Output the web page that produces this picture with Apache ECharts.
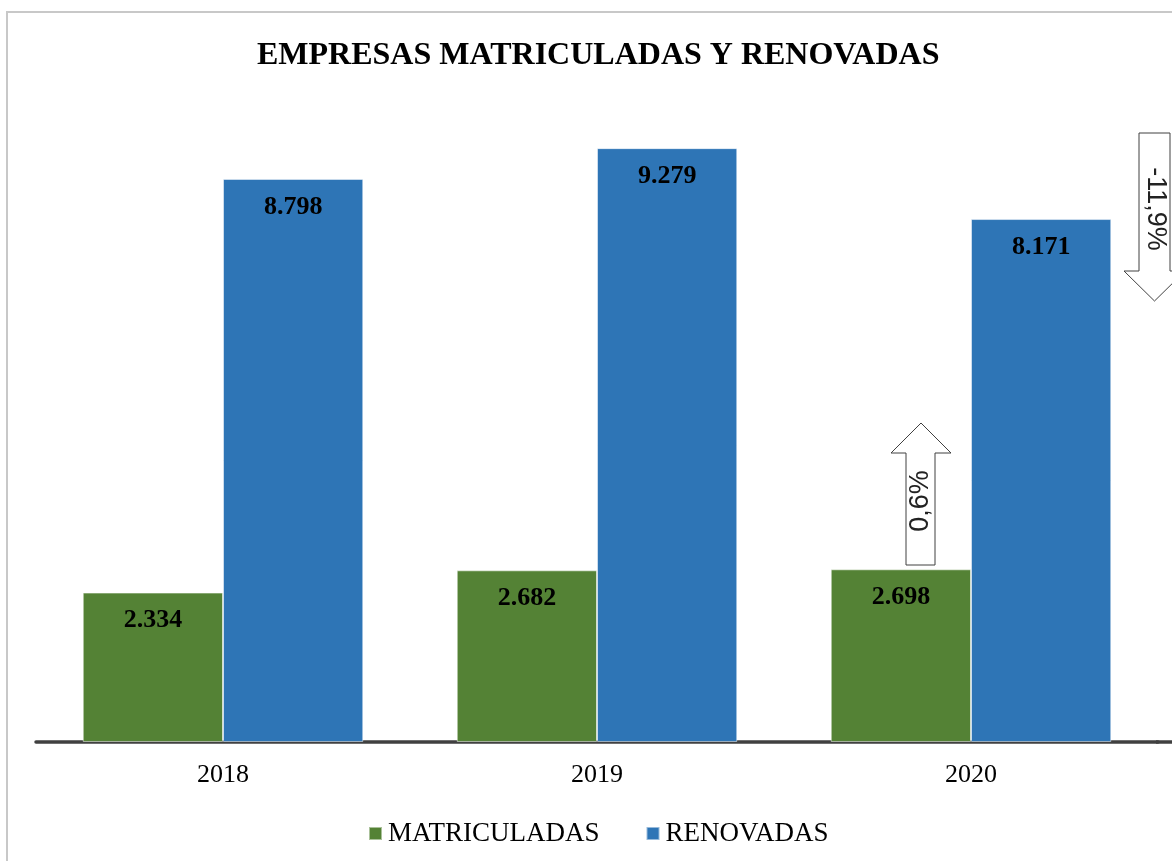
<!DOCTYPE html>
<html>
<head>
<meta charset="utf-8">
<title>Empresas matriculadas y renovadas</title>
<script src="https://cdn.jsdelivr.net/npm/echarts@6/dist/echarts.min.js"></script>
<style>
  html, body { margin: 0; padding: 0; background: #fff; }
  #chart { width: 1172px; height: 861px; }
</style>
</head>
<body>
<div id="chart"></div>
<script>
// datos
const years = ['2018', '2019', '2020'];
const matriculadas = [2334, 2682, 2698];
const renovadas = [8798, 9279, 8171];
const seriesNames = ['MATRICULADAS', 'RENOVADAS'];
const changeMatriculadas = '0,6%';
const changeRenovadas = '-11,9%';

const serif = '"Liberation Serif", "Times New Roman", serif';
const sans = '"Liberation Sans", Arial, sans-serif';

// formato 8.798 con punto de miles
const fmt = v => v.toLocaleString('de-DE');

const chart = echarts.init(document.getElementById('chart'));

const barLabel = {
  show: true,
  position: 'insideTop',
  distance: 15,
  formatter: p => fmt(p.value),
  fontFamily: serif,
  fontSize: 26,
  fontWeight: 'bold',
  color: '#000'
};

const option = {
  backgroundColor: '#fff',
  animation: false,
  title: {
    text: 'EMPRESAS MATRICULADAS Y RENOVADAS',
    left: 252,
    top: 35,
    textStyle: { fontFamily: serif, fontSize: 32, fontWeight: 'bold', color: '#000' }
  },
  legend: {
    data: seriesNames,
    left: 363,
    top: 815,
    icon: 'rect',
    itemWidth: 13,
    itemHeight: 13,
    itemGap: 46,
    textStyle: { fontFamily: serif, fontSize: 27, color: '#000', padding: [0, 0, 0, 1] }
  },
  grid: { left: 36, right: 14, top: 102, height: 640, containLabel: false },
  xAxis: {
    type: 'category',
    data: years,
    axisLine: { lineStyle: { color: '#404040', width: 3.5 } },
    axisTick: { show: false },
    axisLabel: { fontFamily: serif, fontSize: 26, color: '#000', margin: 20 }
  },
  yAxis: {
    type: 'value',
    min: 0,
    max: 10000,
    show: false,
    splitLine: { show: false }
  },
  series: [
    {
      name: seriesNames[0],
      type: 'bar',
      data: matriculadas,
      barGap: '0%',
      barCategoryGap: '25%',
      itemStyle: { color: '#548235', borderColor: 'rgba(255,255,255,0.5)', borderWidth: 1 },
      label: barLabel
    },
    {
      name: seriesNames[1],
      type: 'bar',
      data: renovadas,
      barGap: '0%',
      barCategoryGap: '25%',
      itemStyle: { color: '#2E75B6', borderColor: 'rgba(255,255,255,0.5)', borderWidth: 1 },
      label: barLabel
    }
  ],
  graphic: [
    // marco del gráfico
    {
      type: 'rect',
      shape: { x: 7, y: 12, width: 1200, height: 900 },
      style: { fill: 'none', stroke: '#c8c8c8', lineWidth: 2 },
      silent: true
    },
    // el eje continúa hasta el borde derecho
    {
      type: 'line',
      shape: { x1: 1156, y1: 742, x2: 1172, y2: 742 },
      style: { stroke: '#404040', lineWidth: 3.5 },
      silent: true
    },
    // flecha hacia arriba (matriculadas)
    {
      type: 'polygon',
      shape: { points: [[906, 565], [906, 453], [891, 453], [921, 423], [951, 453], [935, 453], [935, 565]] },
      style: { fill: '#fff', stroke: '#404040', lineWidth: 1 }
    },
    {
      type: 'text',
      x: 921, y: 501,
      rotation: Math.PI / 2,
      style: { text: changeMatriculadas, fontFamily: sans, fontSize: 27, fill: '#222', align: 'center', verticalAlign: 'middle' }
    },
    // flecha hacia abajo (renovadas)
    {
      type: 'polygon',
      shape: { points: [[1139, 133], [1170, 133], [1170, 271], [1185, 271], [1154.5, 301], [1124, 271], [1139, 271]] },
      style: { fill: '#fff', stroke: '#404040', lineWidth: 1 }
    },
    {
      type: 'text',
      x: 1155, y: 209,
      rotation: -Math.PI / 2,
      style: { text: changeRenovadas, fontFamily: sans, fontSize: 27, fill: '#222', align: 'center', verticalAlign: 'middle' }
    }
  ]
};

chart.setOption(option);
</script>
</body>
</html>
